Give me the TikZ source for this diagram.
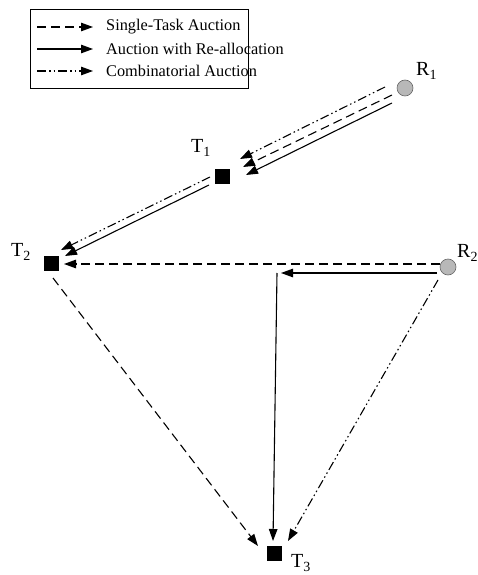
\documentclass[tikz,border=0pt]{standalone}
\usepackage{fontspec}
\setmainfont{Liberation Serif}
\usetikzlibrary{arrows.meta}
\begin{document}
\begin{tikzpicture}[x=1pt,y=-1pt,
  conn/.style={line width=1.1pt,-{Triangle[length=12pt,width=8.5pt]}},
  st/.style={conn,dash pattern=on 9pt off 5pt},
  ra/.style={conn},
  ca/.style={conn,dash pattern=on 9pt off 3pt on 1.5pt off 3pt on 1.5pt off 3pt},
  robot/.style={circle,draw=black!60,fill=black!28,line width=0.6pt,minimum size=16pt,inner sep=0pt},
  task/.style={rectangle,fill=black,minimum size=15pt,inner sep=0pt},
  lbl/.style={font=\fontsize{20}{20}\selectfont,inner sep=0pt},
  legtxt/.style={font=\fontsize{16.3}{17}\selectfont,anchor=west,inner sep=0pt}]
\useasboundingbox (0,0) rectangle (478,575);
% legend
\node[draw,line width=0.7pt,minimum width=218pt,minimum height=79pt,inner sep=0pt] (leg) at (139,48.5) {};
\coordinate (l1a) at (37,27); \coordinate (l1b) at (93,27);
\coordinate (l2a) at (37,49); \coordinate (l2b) at (93,49);
\coordinate (l3a) at (37,71); \coordinate (l3b) at (93,71);
\draw[st] (l1a) -- (l1b);
\draw[ra] (l2a) -- (l2b);
\draw[ca] (l3a) -- (l3b);
\node[legtxt] (t1) at (106,27) {Single-Task Auction};
\node[legtxt] (t2) at (106,49) {Auction with Re-allocation};
\node[legtxt] (t3) at (106,71) {Combinatorial Auction};
% nodes
\node[robot] (R1) at (405,88) {};
\node[robot] (R2) at (448,267) {};
\node[task] (T1) at (222,176) {};
\node[task] (T2) at (51,263) {};
\node[task] (T3) at (274,553) {};
\node[lbl,anchor=west] (LR1) at (416,71) {R\textsubscript{1}};
\node[lbl,anchor=west] (LR2) at (457,253) {R\textsubscript{2}};
\node[lbl,anchor=west] (LT1) at (191,148) {T\textsubscript{1}};
\node[lbl,anchor=west] (LT2) at (11,252) {T\textsubscript{2}};
\node[lbl,anchor=west] (LT3) at (291,563) {T\textsubscript{3}};
% R1 -> T1
\coordinate (a1) at (385,87);  \coordinate (b1) at (240,159);
\coordinate (a2) at (392,95);  \coordinate (b2) at (243,167);
\coordinate (a3) at (392,103); \coordinate (b3) at (246,175);
\draw[ca] (a1) -- (b1);
\draw[st] (a2) -- (b2);
\draw[ra] (a3) -- (b3);
% T1 -> T2
\coordinate (c1) at (210,177); \coordinate (d1) at (61,250);
\coordinate (c2) at (209,185); \coordinate (d2) at (65,256);
\draw[ca] (c1) -- (d1);
\draw[ra] (c2) -- (d2);
% R2 -> T2 dashed
\coordinate (h1) at (440,264); \coordinate (h2) at (64,264);
\draw[st] (h1) -- (h2);
% R2 -> point solid, then to T3
\coordinate (e1) at (437,273); \coordinate (e2) at (281,273);
\coordinate (e3) at (277,273); \coordinate (e4) at (273,541);
\draw[ra] (e1) -- (e2);
\draw[ra] (e3) -- (e4);
% T2 -> T3 dashed
\coordinate (f1) at (53,278); \coordinate (f2) at (258,546);
\draw[st] (f1) -- (f2);
% R2 -> T3 dash-dot
\coordinate (g1) at (438,280); \coordinate (g2) at (288,541);
\draw[ca] (g1) -- (g2);
\end{tikzpicture}
\end{document}
